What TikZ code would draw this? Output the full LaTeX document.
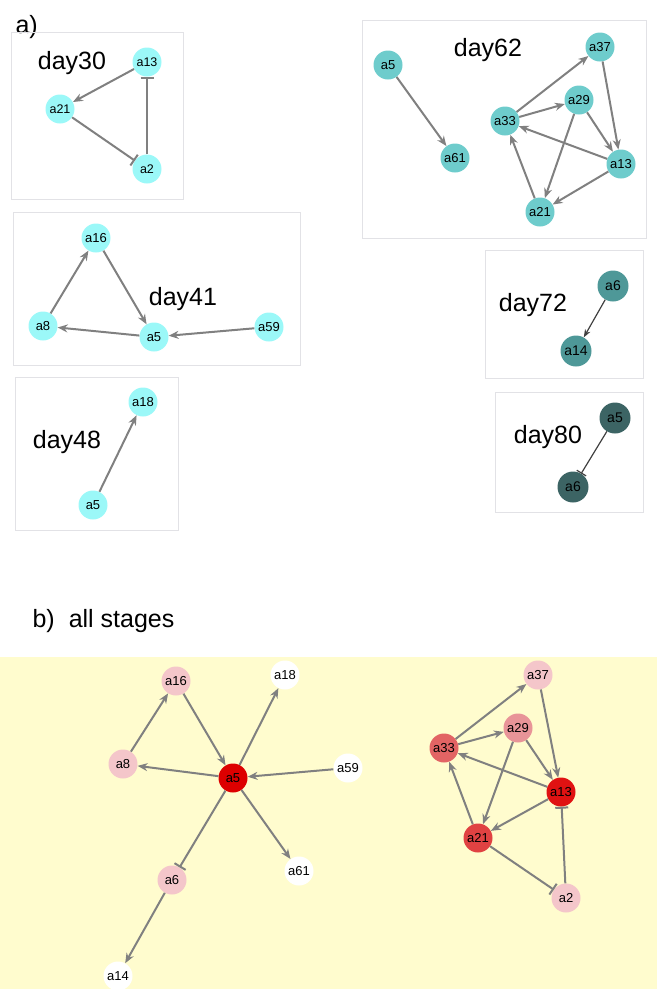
\documentclass[tikz,border=0pt]{standalone}
\usepackage{fontspec}
\setmainfont{Liberation Sans}
\usetikzlibrary{arrows.meta}
\definecolor{cccyan}{RGB}{155,248,248}
\definecolor{ccteal}{RGB}{110,204,204}
\definecolor{cctealb}{RGB}{78,152,152}
\definecolor{cctealc}{RGB}{60,100,100}
\definecolor{ccedge}{RGB}{128,128,128}
\definecolor{ccedged}{RGB}{64,64,64}
\definecolor{ccbox}{RGB}{226,226,230}
\definecolor{ccyellow}{RGB}{255,252,206}
\definecolor{ccreda}{RGB}{221,0,0}
\definecolor{ccredb}{RGB}{224,18,18}
\definecolor{ccredc}{RGB}{224,66,66}
\definecolor{ccredd}{RGB}{226,100,100}
\definecolor{ccrede}{RGB}{232,148,152}
\definecolor{ccpink}{RGB}{244,198,202}

\begin{document}
\begin{tikzpicture}[x=1pt, y=-1pt, >={Stealth[length=10pt, width=8pt]}]

  % Styles
  \tikzstyle{noeud} = [circle, inner sep=0pt, minimum size=29pt, font=\fontsize{13}{15}\selectfont]
  \tikzstyle{petit} = [font=\fontsize{12.5}{14}\selectfont]
  \tikzstyle{grand} = [minimum size=31pt, font=\fontsize{14}{16}\selectfont]
  \tikzstyle{titre} = [font=\fontsize{25}{30}\selectfont]
  \tikzstyle{boite} = [draw=ccbox, line width=0.8pt]
  \tikzstyle{fleche} = [->, ccedge, line width=2pt]
  \tikzstyle{inhib} = [-{Bar[width=13pt]}, ccedge, line width=2pt]
  \tikzstyle{flechefine} = [->, >={Stealth[length=8pt, width=6pt]}, ccedged, line width=1.2pt]
  \tikzstyle{inhibfine} = [-{Bar[width=11pt]}, ccedged, line width=1.2pt]

  \useasboundingbox (0,0) rectangle (657,989);

  % Fond de la partie b
  \fill[ccyellow] (0,657) rectangle (657,989);

  % Titres
  \draw (12,27) node[titre, anchor=west] (ta) {a)};
  \draw (29,621) node[titre, anchor=west] (tb) {b)\hspace{14pt}all stages};

  % Boites
  \draw[boite] (11,32) rectangle (183,199);
  \draw[boite] (362,20) rectangle (646,238);
  \draw[boite] (13,212) rectangle (300,365);
  \draw[boite] (15,377) rectangle (178,530);
  \draw[boite] (485,250) rectangle (643,378);
  \draw[boite] (495,392) rectangle (643,512);

  \draw (72,63) node[titre] (t30) {day30};
  \draw (488,50) node[titre] (t62) {day62};
  \draw (183,299) node[titre] (t41) {day41};
  \draw (67,442) node[titre] (t48) {day48};
  \draw (533,305) node[titre] (t72) {day72};
  \draw (548,437) node[titre] (t80) {day80};

  % day30
  \draw (147,62) node[noeud, petit, fill=cccyan] (d30a13) {a13};
  \draw (60,109) node[noeud, petit, fill=cccyan] (d30a21) {a21};
  \draw (147,169) node[noeud, petit, fill=cccyan] (d30a2) {a2};
  \draw[fleche] (d30a13) -- (d30a21);
  \draw[inhib] (d30a21) -- (d30a2);
  \draw[inhib] (d30a2) -- (d30a13);

  % day62
  \draw (388,65) node[noeud, fill=ccteal] (d62a5) {a5};
  \draw (455,158) node[noeud, fill=ccteal] (d62a61) {a61};
  \draw (600,47) node[noeud, fill=ccteal] (d62a37) {a37};
  \draw (579,100) node[noeud, fill=ccteal] (d62a29) {a29};
  \draw (505,121) node[noeud, fill=ccteal] (d62a33) {a33};
  \draw (621,164) node[noeud, fill=ccteal] (d62a13) {a13};
  \draw (540,212) node[noeud, fill=ccteal] (d62a21) {a21};
  \draw[fleche] (d62a5) -- (d62a61);
  \draw[fleche] (d62a33) -- (d62a37);
  \draw[fleche] (d62a33) -- (d62a29);
  \draw[fleche] (d62a37) -- (d62a13);
  \draw[fleche] (d62a29) -- (d62a13);
  \draw[fleche] (d62a29) -- (d62a21);
  \draw[fleche] (d62a13) -- (d62a33);
  \draw[fleche] (d62a13) -- (d62a21);
  \draw[fleche] (d62a21) -- (d62a33);

  % day41
  \draw (96,238) node[noeud, fill=cccyan] (d41a16) {a16};
  \draw (43,326) node[noeud, fill=cccyan] (d41a8) {a8};
  \draw (154,337) node[noeud, fill=cccyan] (d41a5) {a5};
  \draw (269,327) node[noeud, fill=cccyan] (d41a59) {a59};
  \draw[fleche] (d41a8) -- (d41a16);
  \draw[fleche] (d41a16) -- (d41a5);
  \draw[fleche] (d41a5) -- (d41a8);
  \draw[fleche] (d41a59) -- (d41a5);

  % day48
  \draw (143,402) node[noeud, fill=cccyan] (d48a18) {a18};
  \draw (93,505) node[noeud, fill=cccyan] (d48a5) {a5};
  \draw[fleche] (d48a5) -- (d48a18);

  % day72
  \draw (613,286) node[noeud, grand, fill=cctealb] (d72a6) {a6};
  \draw (576,351) node[noeud, grand, fill=cctealb] (d72a14) {a14};
  \draw[flechefine] (d72a6) -- (d72a14);

  % day80
  \draw (615,418) node[noeud, grand, fill=cctealc] (d80a5) {a5};
  \draw (573,487) node[noeud, grand, fill=cctealc] (d80a6) {a6};
  \draw[inhibfine] (d80a5) -- (d80a6);

  % all stages
  \draw (176,681) node[noeud, fill=ccpink] (ba16) {a16};
  \draw (285,675) node[noeud, fill=white] (ba18) {a18};
  \draw (123,764) node[noeud, fill=ccpink] (ba8) {a8};
  \draw (233,778) node[noeud, fill=ccreda] (ba5) {a5};
  \draw (348,768) node[noeud, fill=white] (ba59) {a59};
  \draw (299,871) node[noeud, fill=white] (ba61) {a61};
  \draw (172,880) node[noeud, fill=ccpink] (ba6) {a6};
  \draw (118,976) node[noeud, fill=white] (ba14) {a14};
  \draw (538,675) node[noeud, fill=ccpink] (ba37) {a37};
  \draw (518,728) node[noeud, fill=ccrede] (ba29) {a29};
  \draw (444,748) node[noeud, fill=ccredd] (ba33) {a33};
  \draw (561,792) node[noeud, fill=ccredb] (ba13) {a13};
  \draw (478,838) node[noeud, fill=ccredc] (ba21) {a21};
  \draw (566,898) node[noeud, fill=ccpink] (ba2) {a2};

  \draw[fleche] (ba8) -- (ba16);
  \draw[fleche] (ba16) -- (ba5);
  \draw[fleche] (ba5) -- (ba8);
  \draw[fleche] (ba5) -- (ba18);
  \draw[fleche] (ba59) -- (ba5);
  \draw[fleche] (ba5) -- (ba61);
  \draw[inhib] (ba5) -- (ba6);
  \draw[fleche] (ba6) -- (ba14);
  \draw[fleche] (ba33) -- (ba37);
  \draw[fleche] (ba33) -- (ba29);
  \draw[fleche] (ba37) -- (ba13);
  \draw[fleche] (ba29) -- (ba13);
  \draw[fleche] (ba29) -- (ba21);
  \draw[fleche] (ba13) -- (ba33);
  \draw[fleche] (ba13) -- (ba21);
  \draw[fleche] (ba21) -- (ba33);
  \draw[inhib] (ba21) -- (ba2);
  \draw[inhib] (ba2) -- (ba13);

\end{tikzpicture}
\end{document}
